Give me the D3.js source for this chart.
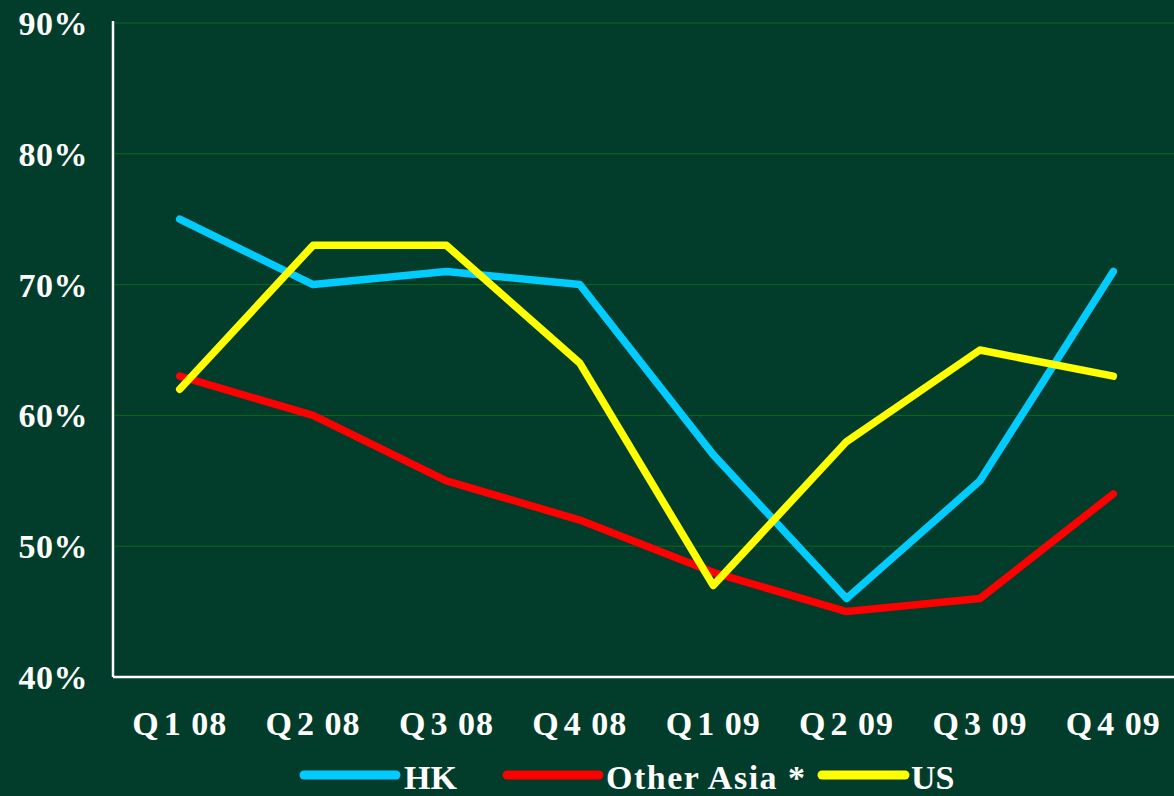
<!DOCTYPE html>
<html>
<head>
<meta charset="utf-8">
<script src="https://cdn.jsdelivr.net/npm/d3@7"></script>
<style>
  html, body { margin: 0; padding: 0; background: #023c2a; }
  svg { display: block; }
  text { font-family: "Liberation Serif", "Times New Roman", serif; font-weight: bold; fill: #fff; }
</style>
</head>
<body>
<div id="chart"></div>
<script>
// data
var quarters = ["Q1 08", "Q2 08", "Q3 08", "Q4 08", "Q1 09", "Q2 09", "Q3 09", "Q4 09"];
var hk = [75, 70, 71, 70, 57, 46, 55, 71];
var otherAsia = [63, 60, 55, 52, 48, 45, 46, 54];
var us = [62, 73, 73, 64, 47, 58, 65, 63];
var yTicks = [40, 50, 60, 70, 80, 90];
var seriesNames = ["HK", "Other Asia *", "US"];
var seriesColors = ["#00ccff", "#ff0000", "#ffff00"];

(function () {
    var W = 1174, H = 796;
    var padL = 113, padR = 1180, padT = 23, padB = 677;

    var svg = d3.select("#chart").append("svg")
        .attr("width", W)
        .attr("height", H);

    svg.append("rect").attr("width", W).attr("height", H).attr("fill", "#023c2a");

    var x = d3.scalePoint().domain(quarters).range([padL, padR]).padding(0.5);
    var y = d3.scaleLinear().domain([40, 90]).range([padB, padT]);

    // gridlines
    svg.append("g").selectAll("line")
        .data(yTicks.slice(1))
        .enter().append("line")
        .attr("x1", padL).attr("x2", W)
        .attr("y1", function (d) { return y(d); })
        .attr("y2", function (d) { return y(d); })
        .attr("stroke", "#0b6b1c")
        .attr("stroke-width", 1);

    // y labels
    svg.append("g").selectAll("text")
        .data(yTicks)
        .enter().append("text")
        .attr("x", 88)
        .attr("y", function (d) { return y(d) + 12; })
        .attr("text-anchor", "end")
        .attr("font-size", 34)
        .attr("letter-spacing", 0.5)
        .text(function (d) { return d + "%"; });

    // x labels: "Q" spaced from the number
    var xl = svg.append("g").selectAll("text")
        .data(quarters)
        .enter().append("text")
        .attr("x", function (d) { return x(d); })
        .attr("y", 735)
        .attr("text-anchor", "middle")
        .attr("font-size", 34)
        .attr("letter-spacing", 1);
    xl.append("tspan").text(function (d) { return d.slice(0, 1); });
    xl.append("tspan").attr("dx", 4).text(function (d) { return d.slice(1); });

    // axes lines
    svg.append("line").attr("x1", padL).attr("x2", padL).attr("y1", 21).attr("y2", padB)
        .attr("stroke", "#fff").attr("stroke-width", 2.5);
    svg.append("line").attr("x1", padL).attr("x2", W).attr("y1", padB).attr("y2", padB)
        .attr("stroke", "#fff").attr("stroke-width", 2.5);

    var line = d3.line()
        .x(function (d, i) { return x(quarters[i]); })
        .y(function (d) { return y(d); });

    [hk, otherAsia, us].forEach(function (s, i) {
        svg.append("path")
            .attr("d", line(s))
            .attr("fill", "none")
            .attr("stroke", seriesColors[i])
            .attr("stroke-width", 7.5)
            .attr("stroke-linejoin", "round")
            .attr("stroke-linecap", "round");
    });

    // legend
    var legendItems = [
        { x1: 304, x2: 396, tx: 404, spacing: 0 },
        { x1: 507, x2: 599, tx: 606, spacing: 1.5 },
        { x1: 822, x2: 905, tx: 911, spacing: 0 }
    ];
    legendItems.forEach(function (it, i) {
        svg.append("line")
            .attr("x1", it.x1).attr("x2", it.x2)
            .attr("y1", 775).attr("y2", 775)
            .attr("stroke", seriesColors[i])
            .attr("stroke-width", 9)
            .attr("stroke-linecap", "round");
        svg.append("text")
            .attr("x", it.tx)
            .attr("y", 789)
            .attr("font-size", 34)
            .attr("letter-spacing", it.spacing)
            .text(seriesNames[i]);
    });
})();
</script>
</body>
</html>
